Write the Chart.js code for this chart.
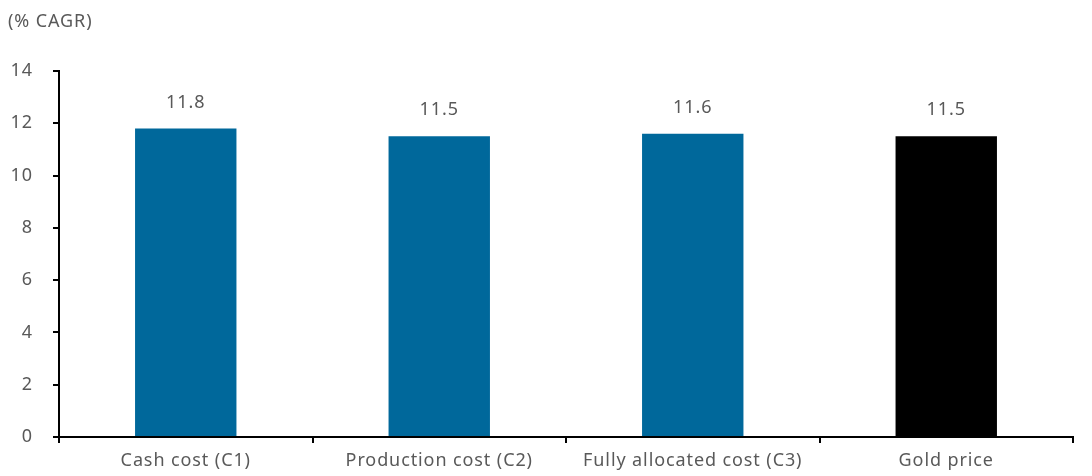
<!DOCTYPE html>
<html><head><meta charset="utf-8">
<script src="https://cdn.jsdelivr.net/npm/chart.js@4/dist/chart.umd.min.js"></script>
<style>html,body{margin:0;padding:0;background:#fff}#wrap{width:1092px;height:476px;position:relative}</style>
</head><body><div id="wrap"><canvas id="c"></canvas></div>
<script>
const categories = ["Cash cost (C1)", "Production cost (C2)", "Fully allocated cost (C3)", "Gold price"];
const cagrValues = [11.8, 11.5, 11.6, 11.5];
const barColors = ["#00689b", "#00689b", "#00689b", "#000000"];
const yTicks = [0, 2, 4, 6, 8, 10, 12, 14];
const unitLabel = "(% CAGR)";

const FONT = "'Noto Sans', sans-serif";
const TXT = "#595959";
const SPACING = "0.9px";

const extras = {
  id: "extras",
  beforeLayout(chart) { chart.ctx.letterSpacing = SPACING; },
  beforeDraw(chart) { chart.ctx.letterSpacing = SPACING; },
  afterDatasetsDraw(chart) {
    const ctx = chart.ctx;
    ctx.save();
    ctx.letterSpacing = SPACING;
    ctx.font = "18px " + FONT;
    ctx.fillStyle = TXT;
    ctx.textAlign = "center";
    ctx.textBaseline = "middle";
    const meta = chart.getDatasetMeta(0);
    meta.data.forEach((bar, i) => {
      ctx.fillText(cagrValues[i].toFixed(1), bar.x, bar.y - 26);
    });
    ctx.textAlign = "left";
    ctx.fillText(unitLabel, 8, 22);
    ctx.restore();
  }
};

new Chart(document.getElementById("c"), {
  type: "bar",
  data: {
    labels: categories,
    datasets: [{
      data: cagrValues,
      backgroundColor: barColors,
      barPercentage: 0.4,
      categoryPercentage: 1.0
    }]
  },
  options: {
    responsive: true,
    maintainAspectRatio: false,
    animation: false,
    layout: { padding: { top: 71, right: 19, bottom: 0, left: 0 } },
    plugins: { legend: { display: false }, tooltip: { enabled: false } },
    scales: {
      x: {
        offset: true,
        grid: { offset: true, drawOnChartArea: false, drawTicks: true, tickLength: 6, color: "#000", lineWidth: 2 },
        border: { display: true, color: "#000", width: 2 },
        ticks: { color: TXT, font: { family: FONT, size: 18 }, padding: 7, maxRotation: 0 },
        afterFit(s) { s.height = 39; }
      },
      y: {
        min: 0, max: 14,
        afterBuildTicks(s) { s.ticks = yTicks.map(v => ({ value: v })); },
        grid: { drawOnChartArea: false, drawTicks: true, tickLength: 6, color: "#000", lineWidth: 2 },
        border: { display: true, color: "#000", width: 2 },
        ticks: { color: TXT, font: { family: FONT, size: 18 }, padding: 20 },
        afterFit(s) { s.width = 59; }
      }
    }
  },
  plugins: [extras]
});
</script></body></html>
